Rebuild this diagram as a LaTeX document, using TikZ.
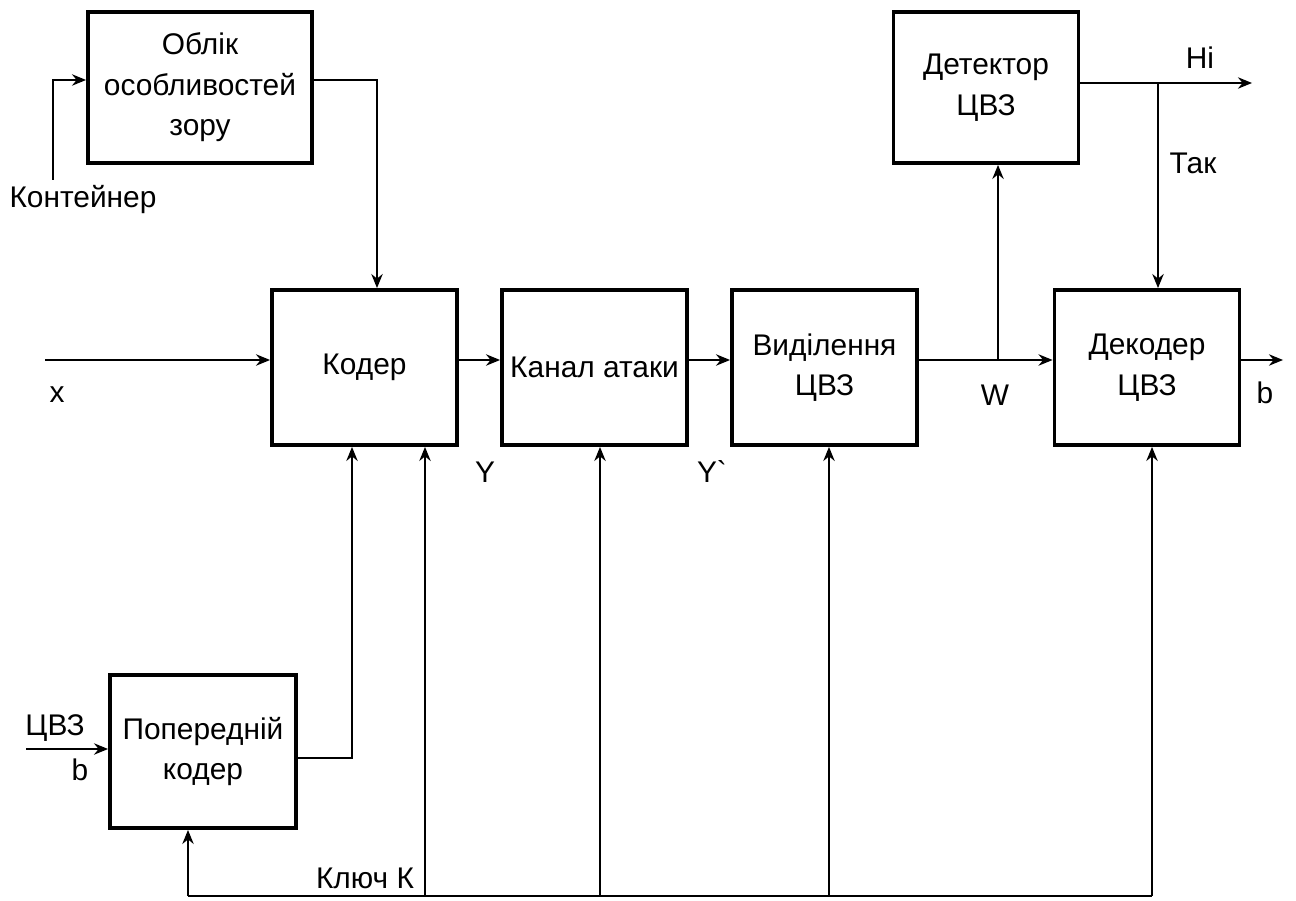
\documentclass[tikz,border=0pt]{standalone}
\usepackage{fontspec}
\setmainfont{Liberation Sans}
\usetikzlibrary{positioning, calc, arrows.meta}

\begin{document}
\begin{tikzpicture}[every node/.style={font=\fontsize{17pt}{23pt}\selectfont},
    block/.style={rectangle, draw, line width=2.2pt, align=center, minimum width=3.7cm, minimum height=3.1cm},
    line/.style={line width=0.9pt},
    >={Stealth[length=8pt, width=6.5pt]}]
    \useasboundingbox (0,0) rectangle (25.92,-18.02);

    \node[block] (koder) at (7.29,-7.35) {Кодер};
    \node[block, right of=koder, xshift=3.6cm] (kanal) {Канал атаки};
    \node[block, right of=kanal, xshift=3.6cm] (vydil) {Виділення\\ЦВЗ};
    \node[block, right of=vydil, xshift=5.45cm] (dekoder) {Декодер\\ЦВЗ};
    \node[block, above of=dekoder, yshift=4.6cm, xshift=-3.22cm, minimum height=3.02cm] (detektor) {Детектор\\ЦВЗ};
    \node[block, above of=koder, yshift=4.6cm, xshift=-3.29cm, minimum width=4.48cm, minimum height=3.02cm] (oblik) {Облік\\особливостей\\зору};
    \node[block, below of=koder, yshift=-6.68cm, xshift=-3.23cm, minimum width=3.72cm, minimum height=3.06cm] (poperednij) {Попередній\\кодер};

    % labels
    \node (lx) at (1.14,-7.9) {x};
    \node (lw) at (19.9,-7.9) {W};
    \node (lb) at (25.3,-7.86) {b};
    \node (ly) at (9.7,-9.44) {Y};
    \node (lyy) at (14.24,-9.44) {Y\textasciigrave};
    \node (lni) at (24.0,-1.16) {Ні};
    \node (ltak) at (23.86,-3.26) {Так};
    \node (lcont) at (1.66,-4.0) {Контейнер};
    \node (lcvz) at (1.1,-14.56) {ЦВЗ};
    \node (lbin) at (1.6,-15.4) {b};
    \node (lkey) at (7.3,-17.56) {Ключ К};

    \coordinate (cont) at (1.06,-3.6);
    \coordinate (xin) at (0.9,-7.2);
    \coordinate (wb) at (19.96,-7.2);
    \coordinate (nout) at (25.04,-1.66);
    \coordinate (tb) at (23.16,-1.66);
    \coordinate (bout) at (25.66,-7.2);
    \coordinate (cvzin) at (0.52,-14.98);
    \coordinate (pk) at (7.04,-15.16);
    \coordinate (k0) at (3.76,-17.92);
    \coordinate (k1) at (8.5,-17.92);
    \coordinate (k2) at (12.0,-17.92);
    \coordinate (k3) at (16.58,-17.92);
    \coordinate (k4) at (23.04,-17.92);

    \draw[line, ->] (cont) |- ([yshift=0.15cm]oblik.west);
    \draw[line, ->] ([yshift=0.15cm]oblik.east) -| ([xshift=0.25cm]koder.north);
    \draw[line, ->] (xin) -- (xin -| koder.west);
    \draw[line, ->] (xin -| koder.east) -- (xin -| kanal.west);
    \draw[line, ->] (xin -| kanal.east) -- (xin -| vydil.west);
    \draw[line, ->] (xin -| vydil.east) -- (xin -| dekoder.west);
    \draw[line, ->] (wb) -- (wb |- detektor.south);
    \draw[line, ->] (nout -| detektor.east) -- (nout);
    \draw[line, ->] (tb) -- (tb |- dekoder.north);
    \draw[line, ->] (bout -| dekoder.east) -- (bout);
    \draw[line, ->] (cvzin) -- (cvzin -| poperednij.west);
    \draw[line, ->] (pk -| poperednij.east) -- (pk) -- (pk |- koder.south);

    % key
    \draw[line] (k0) -- (k4);
    \draw[line, ->] (k0) -- (k0 |- poperednij.south);
    \draw[line, ->] (k1) -- (k1 |- koder.south);
    \draw[line, ->] (k2) -- (k2 |- kanal.south);
    \draw[line, ->] (k3) -- (k3 |- vydil.south);
    \draw[line, ->] (k4) -- (k4 |- dekoder.south);
\end{tikzpicture}
\end{document}
